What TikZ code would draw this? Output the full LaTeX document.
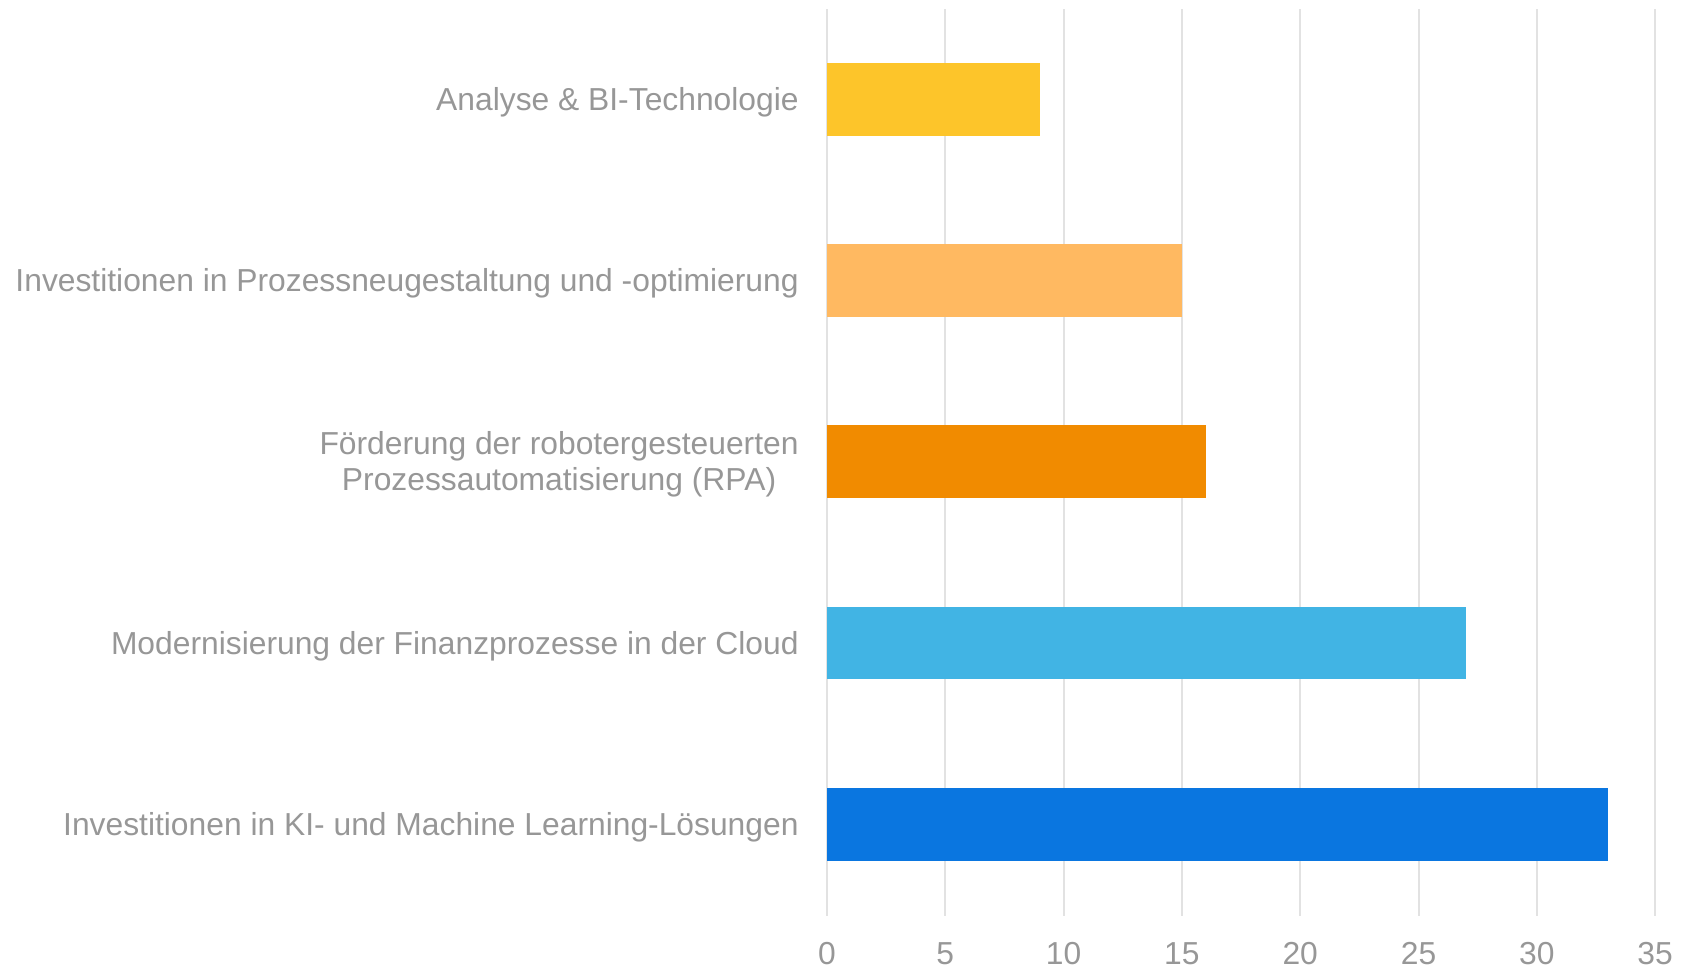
\documentclass[tikz,border=0pt]{standalone}
\usepackage{fontspec}
\setmainfont{Liberation Sans}
\definecolor{labelgray}{RGB}{151,151,151}
\definecolor{gridgray}{RGB}{226,226,226}
\definecolor{barA}{RGB}{253,197,42}
\definecolor{barB}{RGB}{255,185,97}
\definecolor{barC}{RGB}{241,139,0}
\definecolor{barD}{RGB}{65,180,228}
\definecolor{barE}{RGB}{10,118,224}
\tikzset{
  catlabel/.style={anchor=base east,inner sep=0pt,text=labelgray,font=\fontsize{15.9}{18.25}\selectfont},
  ticklabel/.style={anchor=base,inner sep=0pt,text=labelgray,font=\fontsize{15.9}{18.25}\selectfont},
  gridline/.style={draw=gridgray,line width=1pt}
}
\begin{document}
\begin{tikzpicture}[x=0.5pt,y=0.5pt,yscale=-1,xscale=1]
%set diagram left start at 0, and has height of 969
\path (0,0) rectangle (1682,969);

%Grid lines and tick labels
\foreach \v in {0,5,...,35}{
  \coordinate (gtop\v) at ({827+23.66*\v},9);
  \coordinate (gbot\v) at ({827+23.66*\v},916);
  \draw[gridline] (gtop\v) -- (gbot\v);
  \node[ticklabel] (tick\v) at ({827+23.66*\v},964) {\v};
}

%Bars
\fill[barA] (827,63) rectangle ({827+23.66*9},135.5);
\fill[barB] (827,244) rectangle ({827+23.66*15},316.5);
\fill[barC] (827,425) rectangle ({827+23.66*16},497.5);
\fill[barD] (827,606.5) rectangle ({827+23.66*27},679);
\fill[barE] (827,788) rectangle ({827+23.66*33},860.5);

%Category labels
\node[catlabel] (catA) at (799,110.5) {Analyse \& BI-Technologie};
\node[catlabel] (catB) at (799,291.5) {Investitionen in Prozessneugestaltung und -optimierung};
\node[catlabel,anchor=east,align=center] (catC) at (799,464.5) {Förderung der robotergesteuerten\\Prozessautomatisierung (RPA)};
\node[catlabel] (catD) at (799,654) {Modernisierung der Finanzprozesse in der Cloud};
\node[catlabel] (catE) at (799,835.5) {Investitionen in KI- und Machine Learning-Lösungen};

\end{tikzpicture}
\end{document}
